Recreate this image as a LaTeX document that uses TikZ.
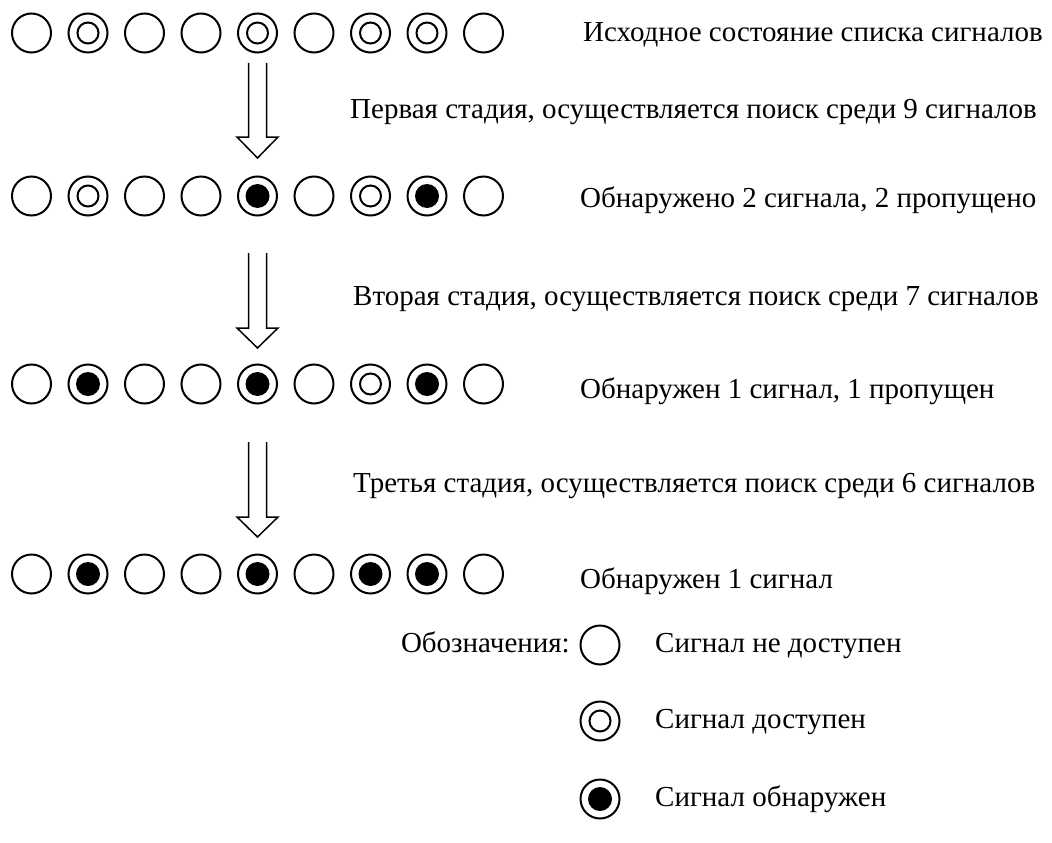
\documentclass[tikz,border=0pt]{standalone}
\usepackage{fontspec}
\setmainfont{Liberation Serif}

\begin{document}
\begin{tikzpicture}[x=1pt, y=-1pt,
  sig0/.style={circle, draw, line width=2pt, minimum size=39pt, inner sep=0pt},
  sig1/.style={sig0, path picture={\draw[line width=2pt] (path picture bounding box.center) circle (10.5pt);}},
  sig2/.style={sig0, path picture={\fill (path picture bounding box.center) circle (12pt);}},
  txt/.style={inner sep=0pt, font=\fontsize{29}{34}\selectfont},
  hollow/.style={line width=1.5pt, line join=miter}]
  \useasboundingbox (0,0) rectangle (1052,843);
  % ряды сигналов: 0 - не доступен, 1 - доступен, 2 - обнаружен
  \foreach \r/\y/\states in {1/33/{0,1,0,0,1,0,1,1,0},
                             2/196/{0,1,0,0,2,0,1,2,0},
                             3/384/{0,2,0,0,2,0,1,2,0},
                             4/574/{0,2,0,0,2,0,2,2,0}}
    \foreach \s [count=\i] in \states
      \node[sig\s] (r\r c\i) at ({31.5+56.5*(\i-1)},\y) {};
  % стрелки между стадиями
  \foreach \t/\b/\p in {63/137/158, 253/328/348, 442/517/537}
    \draw[hollow] (248.5,\t) -- (248.5,\b) -- (237,\b) -- (257.5,\p)
      -- (278,\b) -- (266.5,\b) -- (266.5,\t);
  \node[txt, anchor=mid west] (init) at (583,39) {Исходное состояние списка сигналов};
  \node[txt, anchor=mid west] (st1) at (350,116) {Первая стадия, осуществляется поиск среди 9 сигналов};
  \node[txt, anchor=mid west] (res1) at (580,205) {Обнаружено 2 сигнала, 2 пропущено};
  \node[txt, anchor=mid west] (st2) at (353,303) {Вторая стадия, осуществляется поиск среди 7 сигналов};
  \node[txt, anchor=mid west] (res2) at (580,396) {Обнаружен 1 сигнал, 1 пропущен};
  \node[txt, anchor=mid west] (st3) at (353,490) {Третья стадия, осуществляется поиск среди 6 сигналов};
  \node[txt, anchor=mid west] (res3) at (580,586) {Обнаружен 1 сигнал};
  % обозначения
  \node[txt, anchor=mid east] (legend) at (570,650) {Обозначения:};
  \node[sig0] (k0) at (600,645) {};
  \node[sig1] (k1) at (600,721) {};
  \node[sig2] (k2) at (600,799) {};
  \node[txt, anchor=mid west] (t0) at (655,650) {Сигнал не доступен};
  \node[txt, anchor=mid west] (t1) at (655,726) {Сигнал доступен};
  \node[txt, anchor=mid west] (t2) at (655,804) {Сигнал обнаружен};
\end{tikzpicture}
\end{document}
